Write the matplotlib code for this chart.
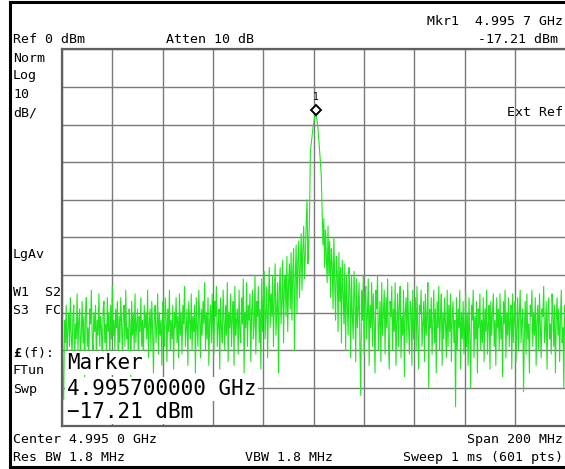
import matplotlib
matplotlib.use('Agg')
import matplotlib.pyplot as plt
import matplotlib.transforms as mtransforms
from matplotlib.lines import Line2D
import numpy as np

# Analyzer settings (from the screen annotations)
center_ghz = 4.995
span_ghz = 0.200
ref_dbm = 0
db_per_div = 10
n_div = 10

marker_freq_ghz = 4.9957
marker_dbm = -17.21

# Trace (dBm), 601 sweep points
trace_dbm = [
    -67, -90, -93, -72, -78, -68, -83, -74, -70, -79, -66, -76, -81, -71, -68, -85, -73, -77, -65, -80,
    -72, -69, -84, -75, -67, -78, -71, -88, -70, -66, -79, -74, -82, -69, -73, -64, -77, -80, -70, -75,
    -68, -83, -72, -76, -65, -79, -71, -74, -86, -69, -67, -78, -73, -81, -66, -75, -70, -84, -68, -77,
    -63, -76, -72, -80, -69, -74, -67, -85, -71, -78, -66, -73, -82, -70, -68, -79, -64, -77, -74, -81,
    -69, -72, -87, -67, -76, -70, -80, -65, -78, -73, -69, -84, -71, -75, -66, -79, -72, -83, -68, -74,
    -70, -77, -64, -82, -73, -69, -80, -67, -75, -86, -71, -68, -78, -74, -65, -81, -70, -76, -72, -84,
    -67, -73, -79, -66, -71, -83, -69, -75, -64, -80, -72, -77, -68, -85, -70, -74, -66, -78, -71, -82,
    -65, -76, -70, -81, -68, -73, -63, -79, -74, -69, -84, -67, -72, -77, -65, -80, -71, -75, -68, -86,
    -66, -74, -79, -64, -71, -82, -69, -76, -67, -73, -62, -80, -70, -77, -66, -84, -72, -68, -78, -65,
    -75, -81, -67, -71, -63, -79, -73, -69, -85, -66, -74, -78, -64, -72, -80, -68, -76, -62, -83, -70,
    -74, -65, -79, -71, -67, -84, -63, -76, -72, -69, -81, -64, -75, -78, -66, -73, -61, -86, -70, -74,
    -62, -79, -68, -72, -65, -83, -70, -64, -77, -73, -60, -81, -67, -71, -63, -78, -69, -85, -61, -75,
    -66, -59, -77, -70, -63, -82, -68, -58, -74, -65, -71, -60, -79, -66, -57, -76, -69, -62, -86, -64,
    -58, -73, -67, -56, -78, -63, -60, -71, -55, -75, -62, -57, -69, -54, -72, -59, -53, -80, -61, -52,
    -70, -56, -51, -66, -58, -49, -64, -53, -47, -61, -55, -46, -40, -57, -52, -44, -27, -25, -23, -21,
    -19.5, -18.2, -17.21, -17.8, -18.9, -21, -24, -27, -30, -34, -43, -52, -45, -58, -48, -55, -62, -47, -60, -51,
    -66, -53, -57, -69, -50, -62, -72, -55, -59, -75, -54, -67, -58, -78, -56, -64, -73, -57, -80, -60,
    -68, -76, -58, -63, -82, -60, -71, -77, -59, -66, -83, -61, -74, -69, -62, -79, -92, -64, -72, -60,
    -81, -66, -63, -77, -70, -61, -84, -68, -74, -62, -79, -65, -72, -86, -64, -69, -60, -80, -73, -67,
    -83, -62, -76, -70, -64, -81, -66, -74, -61, -78, -85, -67, -71, -63, -80, -69, -75, -62, -84, -72,
    -65, -79, -68, -63, -82, -71, -76, -64, -87, -70, -66, -78, -62, -74, -81, -67, -69, -84, -64, -77,
    -72, -66, -80, -63, -75, -85, -68, -70, -64, -79, -73, -67, -83, -65, -76, -71, -62, -90, -69, -74,
    -66, -81, -72, -64, -78, -69, -86, -67, -74, -63, -80, -71, -65, -84, -70, -77, -66, -73, -82, -64,
    -79, -68, -75, -65, -83, -71, -67, -78, -72, -95, -66, -80, -69, -74, -64, -85, -70, -77, -67, -81,
    -73, -65, -79, -70, -84, -66, -76, -90, -68, -72, -64, -82, -71, -77, -67, -86, -69, -74, -65, -80,
    -72, -78, -66, -83, -69, -75, -64, -81, -73, -68, -85, -67, -76, -70, -65, -79, -72, -84, -66, -74,
    -69, -80, -65, -77, -71, -87, -67, -73, -64, -82, -70, -76, -66, -79, -72, -68, -85, -65, -78, -71,
    -67, -83, -74, -66, -80, -70, -64, -78, -72, -69, -91, -75, -67, -81, -65, -77, -73, -86, -68, -71,
    -64, -79, -70, -76, -66, -84, -72, -68, -80, -65, -74, -82, -69, -71, -63, -78, -75, -67, -85, -70,
    -66, -77, -73, -81, -65, -70, -79, -68, -86, -72, -66, -76, -69, -83, -71, -64, -78, -74, -90, -68,
    -72,
]

f_start = center_ghz - span_ghz / 2
f_stop = center_ghz + span_ghz / 2
freqs = np.linspace(f_start, f_stop, len(trace_dbm))

W, H = 565, 469
fig = plt.figure(figsize=(W / 100, H / 100), dpi=100)
fig.patch.set_facecolor('white')

# graticule area
ax = fig.add_axes([62 / W, (H - 425.5) / H, 503.5 / W, 376 / H])
ax.set_facecolor('white')
ax.plot(freqs, trace_dbm, color='#1fe61f', lw=0.8, zorder=2)
ax.set_xlim(f_start, f_stop)
ax.set_ylim(ref_dbm - n_div * db_per_div, ref_dbm)
ax.set_xticks(np.linspace(f_start, f_stop, n_div + 1))
ax.set_yticks(np.linspace(ref_dbm - n_div * db_per_div, ref_dbm, n_div + 1))
ax.grid(True, color='#7a7a7a', lw=1, zorder=1)
ax.set_axisbelow(True)
ax.tick_params(length=0, labelbottom=False, labelleft=False)
for side in ['left', 'top', 'bottom']:
    ax.spines[side].set_color('#606060')
    ax.spines[side].set_linewidth(1.6)
ax.spines['right'].set_visible(False)

# marker 1
trans = mtransforms.offset_copy(ax.transData, fig=fig, x=0, y=4, units='dots')
ax.plot([marker_freq_ghz], [marker_dbm], marker='D', ms=4.8, mfc='white',
        mec='black', mew=1.4, transform=trans, clip_on=False, zorder=6)
ax.annotate('1', (marker_freq_ghz, marker_dbm), xytext=(0, 14),
            textcoords='offset pixels', ha='center', va='baseline',
            fontsize=7, family='DejaVu Sans Mono', zorder=6)

MONO = 'DejaVu Sans Mono'


def put(x, y, s, ha='left', size=9.5, **kw):
    # x, y in screen pixels (y from top), y is the baseline
    fig.text(x / W, 1 - y / H, s, ha=ha, va='baseline', fontsize=size,
             family=kw.pop('family', MONO), color='black', zorder=10, **kw)


# header
put(563, 25, 'Mkr1  4.995 7 GHz', ha='right')
put(13, 43, 'Ref 0 dBm')
put(166, 43, 'Atten 10 dB')
put(558, 43, '-17.21 dBm', ha='right')

# left annotations
put(13, 61.5, 'Norm')
put(13, 79.5, 'Log')
put(13, 98, '10')
put(13, 116.5, 'dB/')
put(13, 258, 'LgAv')
put(13, 296.5, 'W1  S2')
put(13, 314.5, 'S3  FC')
put(13, 356.5, '£', fontweight='bold')
put(22, 356.5, '(f):')
put(13, 374, 'FTun')
put(13, 393, 'Swp')
put(563, 116, 'Ext Ref', ha='right')

# footer
put(13, 443, 'Center 4.995 0 GHz')
put(563, 443, 'Span 200 MHz', ha='right')
put(13, 461, 'Res BW 1.8 MHz')
put(245, 461, 'VBW 1.8 MHz')
put(563, 461, 'Sweep 1 ms (601 pts)', ha='right')

# marker readout box
box = dict(facecolor='white', edgecolor='none', pad=1.2)
put(67, 369, 'Marker', size=15, bbox=box)
put(67, 395, '4.995700000 GHz', size=15, bbox=box)
put(67, 418, '\u221217.21 dBm', size=15, bbox=box)

# screen frame
for xs, ys in [([9.5, 9.5], [2, 467]), ([9.5, W], [2.5, 2.5]), ([9.5, W], [466.5, 466.5])]:
    fig.add_artist(Line2D([v / W for v in xs], [1 - v / H for v in ys],
                          color='black', lw=2.2, transform=fig.transFigure))

fig.savefig('out.png', dpi=100, facecolor='white')
